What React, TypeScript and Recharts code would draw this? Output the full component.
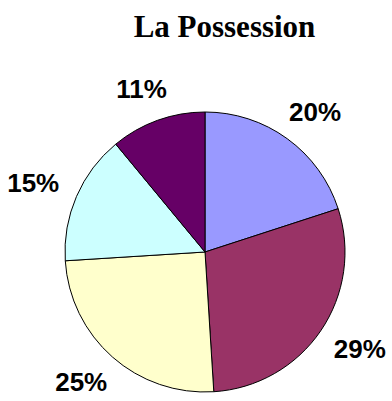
import React from "react";
import { PieChart, Pie, Cell } from "recharts";

const TITLE = "La Possession";
const shares = [20, 29, 25, 15, 11];
const sliceColors = ["#9999FF", "#993366", "#FFFFCC", "#CCFFFF", "#660066"];

const RADIAN = Math.PI / 180;
const LABEL_FONT = 26;

// outside-end labels: anchor just past the rim, then push the box outward
const renderLabel = (props: any) => {
  const { cx, cy, midAngle, outerRadius, value } = props;
  const text = `${value}%`;
  const cos = Math.cos(-midAngle * RADIAN);
  const sin = Math.sin(-midAngle * RADIAN);
  const r = outerRadius + 23;
  const halfW = (text.length * 0.62 * LABEL_FONT) / 2;
  const halfH = 10;
  const x = cx + r * cos + halfW * cos;
  const y = cy + r * sin + halfH * sin;
  return (
    <text
      x={x}
      y={y}
      textAnchor="middle"
      dominantBaseline="central"
      fill="#000"
      fontFamily="'Liberation Sans', Arial, sans-serif"
      fontWeight="bold"
      fontSize={LABEL_FONT}
    >
      {text}
    </text>
  );
};

const App: React.FC = () => {
  const data = shares.map((v, i) => ({ name: `s${i}`, value: v }));

  return (
    <div
      style={{
        position: "absolute",
        left: 0,
        top: 0,
        width: 392,
        height: 401,
        background: "#fff",
      }}
    >
      <div
        style={{
          position: "absolute",
          left: 0,
          top: 9,
          width: 449,
          textAlign: "center",
          fontFamily: "'Liberation Serif', 'Times New Roman', serif",
          fontWeight: "bold",
          fontSize: 31,
          lineHeight: "36px",
          color: "#000",
        }}
      >
        {TITLE}
      </div>
      <PieChart
        width={392}
        height={401}
        margin={{ top: 0, right: 0, bottom: 0, left: 0 }}
      >
        <Pie
          data={data}
          dataKey="value"
          cx={205}
          cy={252}
          outerRadius={140}
          startAngle={90}
          endAngle={-270}
          stroke="#000"
          strokeWidth={1}
          label={renderLabel}
          labelLine={false}
          isAnimationActive={false}
        >
          {data.map((d, i) => (
            <Cell key={d.name} fill={sliceColors[i]} />
          ))}
        </Pie>
      </PieChart>
    </div>
  );
};

export default App;
